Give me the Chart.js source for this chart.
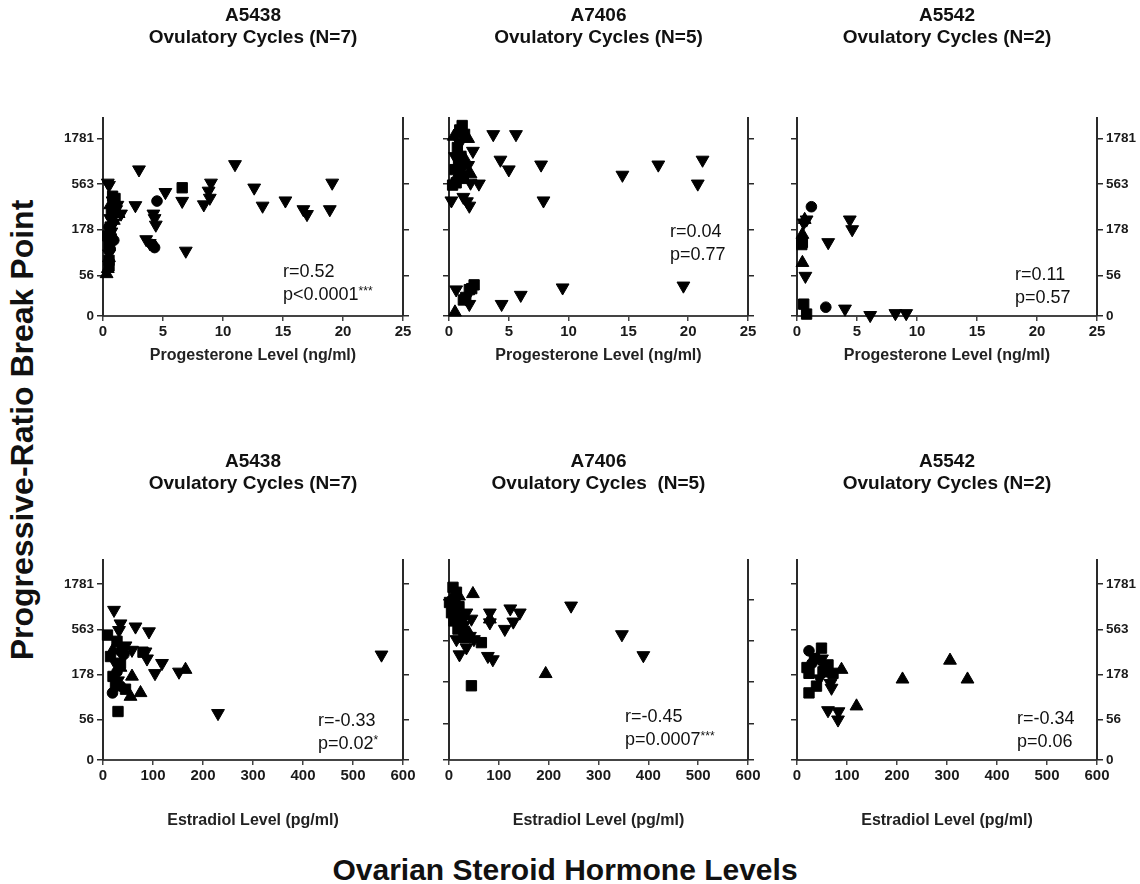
<!DOCTYPE html>
<html>
<head>
<meta charset="utf-8">
<script src="https://cdn.jsdelivr.net/npm/chart.js@4.4.1/dist/chart.umd.min.js"></script>
<style>
  body { margin: 0; background: #fff; width: 1140px; height: 884px; position: relative; overflow: hidden;
         font-family: 'Liberation Sans', Arial, sans-serif; color: #111; }
  canvas { position: absolute; }
  .stat { position: absolute; font-size: 18px; line-height: 23px; color: #111; white-space: nowrap; }
  .stat sup { font-size: 12px; line-height: 0; vertical-align: 5px; }
  .big { position: absolute; font-weight: bold; font-size: 30px; white-space: nowrap; color: #111;
         transform: translate(-50%, -50%); }
</style>
</head>
<body>
<canvas id="c1"></canvas>
<canvas id="c2"></canvas>
<canvas id="c3"></canvas>
<canvas id="c4"></canvas>
<canvas id="c5"></canvas>
<canvas id="c6"></canvas>

<div class="stat" style="left:283px; top:260px">r=0.52<br>p&lt;0.0001<sup>***</sup></div>
<div class="stat" style="left:670px; top:220px">r=0.04<br>p=0.77</div>
<div class="stat" style="left:1015px; top:263px">r=0.11<br>p=0.57</div>
<div class="stat" style="left:318px; top:709px">r=-0.33<br>p=0.02<sup>*</sup></div>
<div class="stat" style="left:625px; top:705px">r=-0.45<br>p=0.0007<sup>***</sup></div>
<div class="stat" style="left:1017px; top:707px">r=-0.34<br>p=0.06</div>

<div class="big" style="left:22px; top:430px; font-size:32px; transform: translate(-50%, -50%) rotate(-90deg)">Progressive-Ratio Break Point</div>
<div class="big" style="left:565px; top:870px">Ovarian Steroid Hormone Levels</div>

<script>
// y axis is log break point; the bottom tick sits at 20 and is labelled 0
const yTickVals = [20, 56, 178, 563, 1781];
const yTickLabels = ['0', '56', '178', '563', '1781'];
const progTicks = [0, 5, 10, 15, 20, 25];
const estTicks = [0, 100, 200, 300, 400, 500, 600];

const monkeys = ['A5438', 'A7406', 'A5542'];
const cycleTitles = ['Ovulatory Cycles (N=7)', 'Ovulatory Cycles (N=5)', 'Ovulatory Cycles (N=2)'];
const cycleTitlesBottom = ['Ovulatory Cycles (N=7)', 'Ovulatory Cycles  (N=5)', 'Ovulatory Cycles (N=2)'];

// [hormone level, break point]
const a5438ProgDown = [[0.4,582],[0.5,550],[3.0,814],[2.7,329],[5.2,459],[4.3,237],[4.4,201],[4.2,266],[3.6,139],[3.9,126],
  [6.9,104],[6.6,367],[8.4,336],[9.0,582],[8.8,475],[8.9,397],[11.0,930],[12.6,514],[13.3,325],[15.2,371],[16.7,297],
  [17.0,263],[18.9,297],[19.1,582],[0.8,371],[1.1,297],[1.5,266],[0.6,237],[1.2,332],[0.9,212],[0.5,97],[0.7,169]];
const a5438ProgSquare = [[6.6,514],[0.5,71],[0.5,82],[0.8,415],[1.0,392],[0.7,266],[0.6,190],[0.4,152],[1.0,314],[0.5,122]];
const a5438ProgCircle = [[4.5,367],[4.3,113],[4.1,122],[0.7,152],[0.9,136],[0.6,109],[0.5,190]];
const a5438ProgUp = [[0.6,332],[0.8,266],[0.5,87],[0.4,66],[0.9,224],[1.3,266],[0.3,58]];

const a7406ProgDown = [[3.7,1987],[5.6,1987],[4.3,1041],[5.0,814],[7.7,921],[7.9,371],[14.5,711],[17.5,921],[21.2,1041],
  [20.8,569],[0.2,371],[1.2,406],[1.7,325],[1.5,363],[2.5,569],[2.0,1303],[1.1,728],[0.5,1139],[1.6,910],[0.9,1590],
  [1.8,582],[0.6,39],[1.7,27],[4.4,27],[6.0,34],[9.5,41],[19.6,43],[1.4,31]];
const a7406ProgSquare = [[0.9,2221],[1.1,2485],[1.3,1987],[0.7,1423],[1.0,1139],[0.5,814],[1.2,651],[0.6,582],[0.3,550],
  [0.8,962],[2.1,44],[1.9,40],[1.7,39],[1.2,30],[1.4,32]];
const a7406ProgCircle = [[0.8,2101],[1.0,870]];
const a7406ProgUp = [[1.6,1778],[0.4,1880],[1.8,728],[1.3,1076],[0.5,22],[0.7,688]];

const a5542ProgDown = [[0.8,229],[0.56,212],[4.4,229],[4.6,179],[2.6,129],[0.7,55],[4.0,24],[6.1,20.4],[8.2,21.4],[9.1,21.4]];
const a5542ProgSquare = [[0.45,129],[0.56,27],[0.8,21],[0.4,122]];
const a5542ProgCircle = [[1.2,318],[2.4,25]];
const a5542ProgUp = [[0.45,77],[0.45,157],[0.64,229]];

const a5438EstDown = [[557,294],[230,66],[22,921],[35,651],[32,550],[65,602],[92,532],[58,332],[85,318],[88,266],[118,237],
  [104,183],[152,190],[45,371],[25,237],[40,281],[30,152]];
const a5438EstSquare = [[9,486],[30,69],[15,281],[28,415],[38,332],[45,122],[20,169],[80,314],[35,237],[25,136]];
const a5438EstCircle = [[19,111],[35,132],[28,190],[42,297]];
const a5438EstUp = [[165,201],[58,169],[75,111],[55,101],[35,212],[20,332]];

const a7406EstDown = [[245,1524],[347,681],[390,378],[123,1406],[142,1253],[129,973],[112,791],[82,1253],[82,951],[88,337],
  [78,370],[21,387],[15,593],[42,650],[35,1253],[30,887],[45,1054],[25,746],[10,1770],[50,593],[35,471]];
const a7406EstSquare = [[45,161],[65,541],[8,2559],[15,2228],[1,1671],[12,1875],[20,1489],[5,1253],[25,1117],[10,995],[30,628],[18,791]];
const a7406EstCircle = [[5,1770],[22,887],[12,1183]];
const a7406EstUp = [[194,225],[48,2128],[82,1042],[30,838],[40,705],[20,1986]];

const a5542EstDown = [[62,71],[83,69],[82,56],[69,126],[67,142],[50,266],[45,160],[55,212]];
const a5542EstSquare = [[24,111],[39,132],[24,183],[49,348],[62,227],[72,183],[35,266],[20,212],[52,190]];
const a5542EstCircle = [[24,325],[30,237]];
const a5542EstUp = [[306,254],[211,157],[341,157],[119,79],[89,201],[40,266]];

Chart.defaults.font.family = "'Liberation Sans', Arial, sans-serif";
Chart.defaults.color = '#1a1a1a';

const colLeft = [103, 449, 797];
const colWidth = [300, 299, 300];
const rows = [
  { top: 0, height: 365, xH: 49, padTop: 5, padBottom: 69, xTitle: 'Progesterone Level (ng/ml)', xTicks: progTicks },
  { top: 446, height: 384, xH: 70, padTop: 5, padBottom: 65, xTitle: 'Estradiol Level (pg/ml)', xTicks: estTicks }
];
const SIDE = 60;

function shapeSets(down, square, circle, up) {
  const sets = [
    { data: square, pointStyle: 'rect', pointRadius: 7.3, rot: 0 },
    { data: circle, pointStyle: 'circle', pointRadius: 5.3, rot: 0 },
    { data: up, pointStyle: 'triangle', pointRadius: 7.4, rot: 0 },
    { data: down, pointStyle: 'triangle', pointRadius: 7.4, rot: 180 }
  ];
  return sets.map(s => ({
    data: s.data.map(([x, y]) => ({ x, y })),
    pointStyle: s.pointStyle,
    pointRadius: s.pointRadius,
    pointRotation: s.rot,
    backgroundColor: '#000',
    borderColor: '#000',
    borderWidth: 1,
    clip: false,
    showLine: false
  }));
}

function yAxis(position, yMax, showLabels) {
  return {
    type: 'logarithmic',
    position,
    min: 20,
    max: yMax,
    afterBuildTicks: s => { s.ticks = yTickVals.map(v => ({ value: v })); },
    afterFit: s => { s.width = SIDE; },
    border: { display: true, color: '#2a2a2a', width: 2 },
    grid: { drawOnChartArea: false, drawTicks: true, tickLength: 6, color: '#2a2a2a', lineWidth: 1.5 },
    ticks: {
      display: showLabels,
      font: { size: 13.5, weight: 'bold' },
      padding: 3,
      callback: (v, i) => yTickLabels[i]
    }
  };
}

function makePanel(canvasId, row, col, title, yMax, sets) {
  const r = rows[row];
  const canvas = document.getElementById(canvasId);
  canvas.width = colWidth[col] + SIDE * 2;
  canvas.height = r.height;
  canvas.style.left = (colLeft[col] - SIDE) + 'px';
  canvas.style.top = r.top + 'px';
  const xMax = r.xTicks[r.xTicks.length - 1];

  return new Chart(canvas.getContext('2d'), {
    type: 'scatter',
    data: { datasets: sets },
    options: {
      responsive: false,
      animation: false,
      layout: { padding: 0 },
      plugins: {
        legend: { display: false },
        tooltip: { enabled: false },
        title: {
          display: true,
          text: title,
          color: '#111',
          font: { size: 19, weight: 'bold', lineHeight: 1.16 },
          padding: { top: r.padTop, bottom: r.padBottom }
        }
      },
      scales: {
        x: {
          type: 'linear',
          min: 0,
          max: xMax,
          afterBuildTicks: s => { s.ticks = r.xTicks.map(v => ({ value: v })); },
          afterFit: s => { s.height = r.xH; },
          border: { display: true, color: '#444', width: 2 },
          grid: { drawOnChartArea: false, drawTicks: true, tickLength: 5, color: '#444', lineWidth: 1.5 },
          ticks: { font: { size: 15, weight: 'bold' }, padding: 2, maxRotation: 0, autoSkip: false },
          title: { display: true, text: r.xTitle, color: '#222', font: { size: 16, weight: 'bold' }, padding: 0 }
        },
        y: yAxis('left', yMax, col === 0),
        y2: yAxis('right', yMax, col === 2)
      }
    }
  });
}

makePanel('c1', 0, 0, [monkeys[0], cycleTitles[0]], 3000, shapeSets(a5438ProgDown, a5438ProgSquare, a5438ProgCircle, a5438ProgUp));
makePanel('c2', 0, 1, [monkeys[1], cycleTitles[1]], 3000, shapeSets(a7406ProgDown, a7406ProgSquare, a7406ProgCircle, a7406ProgUp));
makePanel('c3', 0, 2, [monkeys[2], cycleTitles[2]], 3000, shapeSets(a5542ProgDown, a5542ProgSquare, a5542ProgCircle, a5542ProgUp));
makePanel('c4', 1, 0, [monkeys[0], cycleTitlesBottom[0]], 3300, shapeSets(a5438EstDown, a5438EstSquare, a5438EstCircle, a5438EstUp));
makePanel('c5', 1, 1, [monkeys[1], cycleTitlesBottom[1]], 5500, shapeSets(a7406EstDown, a7406EstSquare, a7406EstCircle, a7406EstUp));
makePanel('c6', 1, 2, [monkeys[2], cycleTitlesBottom[2]], 3300, shapeSets(a5542EstDown, a5542EstSquare, a5542EstCircle, a5542EstUp));
</script>
</body>
</html>
